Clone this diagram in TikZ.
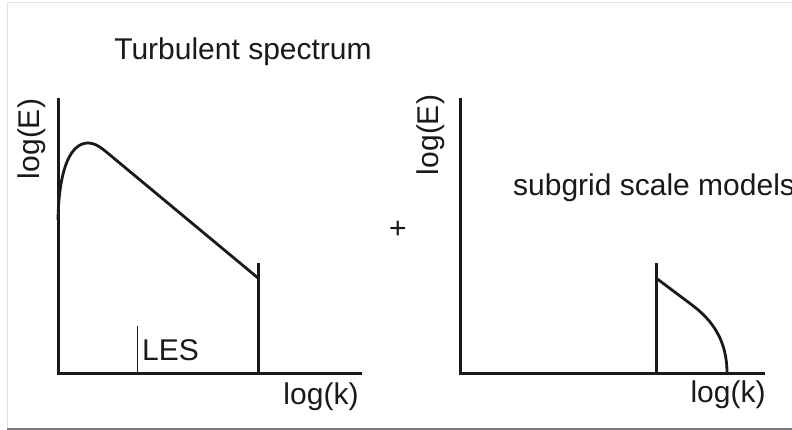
\documentclass[tikz,border=0pt]{standalone}
\usepackage{fontspec}
\setmainfont{Liberation Sans}
\usetikzlibrary{positioning}
\definecolor{FrameGray}{HTML}{7A7A7A}
\definecolor{FrameLight}{HTML}{E4E4E4}
\definecolor{InkBlack}{HTML}{1A1A1A}

\begin{document}
\begin{tikzpicture}[x=1pt,y=-1pt,
    axisline/.style={draw=InkBlack,line width=3pt},
    specline/.style={draw=InkBlack,line width=2.8pt,line join=round},
    lbl/.style={inner sep=0pt,font=\fontsize{30}{35}\selectfont,text=InkBlack}]
    \useasboundingbox (0,0) rectangle (792,430);
    \fill[white] (0,0) rectangle (792,430);
    % frame
    \draw[FrameLight,line width=1pt] (7,429) -- (7,3) -- (792,3);
    \draw[FrameGray,line width=2pt] (7,429) -- (792,429);

    % left panel: full spectrum
    \coordinate (o1) at (58,373);
    \coordinate (ytop1) at (58,98);
    \coordinate (xend1) at (362,373);
    \coordinate (cut1) at (258,263);
    \coordinate (cutb1) at (258,373);
    \coordinate (les1) at (137,326);
    \coordinate (lesb1) at (137,373);
    \draw[axisline] (ytop1) -- (o1) -- (xend1);
    \draw[axisline] (cut1) -- (cutb1);
    \draw[draw=InkBlack,line width=0.9pt] (les1) -- (lesb1);
    \draw[specline] (58,220) .. controls (59,165) and (72,143) .. (88,143)
      .. controls (96,143) and (102,148.4) .. (110,155) -- (258,278);
    \node[lbl] (title) at (243,52) {Turbulent spectrum};
    \node[lbl,rotate=90] (logE1) at (32,139) {log(E)};
    \node[lbl,anchor=south west] (les) at (142,361) {LES};
    \node[lbl] (logk1) at (321,397) {log(k)};

    \node[lbl] (plus) at (398,230) {+};

    % right panel: subgrid part
    \coordinate (o2) at (460,373);
    \coordinate (ytop2) at (460,98);
    \coordinate (xend2) at (765,373);
    \coordinate (cut2) at (656,263);
    \coordinate (cutb2) at (656,373);
    \draw[axisline] (ytop2) -- (o2) -- (xend2);
    \draw[axisline] (cut2) -- (cutb2);
    \draw[specline] (656,278) -- (692,305)
      .. controls (712,320) and (727,340) .. (727,373);
    \node[lbl,rotate=90] (logE2) at (431,135) {log(E)};
    \node[lbl,anchor=west] (sgs) at (513,188) {subgrid scale models};
    \node[lbl] (logk2) at (728,395) {log(k)};
\end{tikzpicture}
\end{document}
